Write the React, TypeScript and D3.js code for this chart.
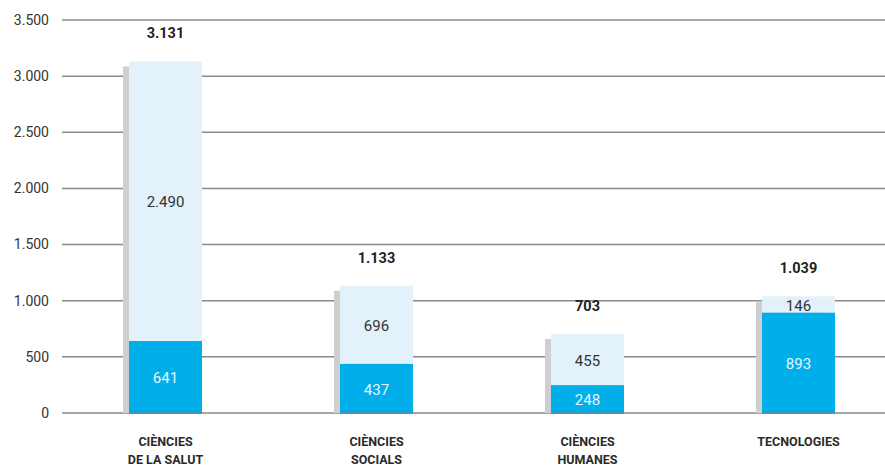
import React from "react";
import * as d3 from "d3";

const categories: string[][] = [
  ["CIÈNCIES", "DE LA SALUT"],
  ["CIÈNCIES", "SOCIALS"],
  ["CIÈNCIES", "HUMANES"],
  ["TECNOLOGIES"],
];
const bottomValues = [641, 437, 248, 893];
const topValues = [2490, 696, 455, 146];
const totals = [3131, 1133, 703, 1039];
const yTicks = [0, 500, 1000, 1500, 2000, 2500, 3000, 3500];

const W = 885;
const H = 467;
const fmt = (v: number) => d3.format(",")(v).replace(/,/g, ".");

export default function App() {
  const y = d3.scaleLinear().domain([0, 3500]).range([413, 20]);
  const x = d3
    .scalePoint<number>()
    .domain(d3.range(categories.length))
    .range([165.5, 798.5]);
  const bw = 73;
  const font = "Roboto, 'DejaVu Sans', sans-serif";
  return (
    <svg
      width={W}
      height={H}
      style={{ position: "absolute", left: 0, top: 0 }}
      fontFamily={font}
    >
      {yTicks.map((t) => (
        <g key={t}>
          <line x1={62} x2={W} y1={y(t)} y2={y(t)} stroke="#8a8a8a" strokeWidth={1.5} />
          <text x={49} y={y(t)} dy="0.35em" textAnchor="end" fontSize={14} fill="#333">
            {fmt(t)}
          </text>
        </g>
      ))}
      {categories.map((c, i) => {
        const cx = x(i)!;
        const x0 = cx - bw / 2;
        const b = bottomValues[i];
        const tp = topValues[i];
        const tot = totals[i];
        return (
          <g key={i}>
            <rect x={x0 - 6} y={y(b + tp) + 5} width={bw} height={y(0) - y(b + tp) - 5} fill="#cfcfcf" />
            <rect x={x0} y={y(b + tp)} width={bw} height={y(b) - y(b + tp)} fill="#e3f1fb" />
            <rect x={x0} y={y(b)} width={bw} height={y(0) - y(b)} fill="#00aeea" />
            <line x1={x0} x2={x0 + bw} y1={y(0)} y2={y(0)} stroke="#4f8aa3" strokeWidth={1.5} />
            <text x={cx} y={(y(b) + y(0)) / 2 + 1} dy="0.35em" textAnchor="middle" fontSize={15} fill="#e6f6ff">
              {fmt(b)}
            </text>
            <text x={cx} y={(y(b + tp) + y(b)) / 2 + 1} dy="0.35em" textAnchor="middle" fontSize={15} fill="#333">
              {fmt(tp)}
            </text>
            <text x={cx} y={y(b + tp) - 23} textAnchor="middle" fontSize={14.5} fontWeight="bold" fill="#222">
              {fmt(tot)}
            </text>
            {c.map((line, j) => (
              <text
                key={j}
                x={cx}
                y={446 + j * 18}
                textAnchor="middle"
                fontSize={12.5}
                fontWeight="bold"
                fill="#2a2a2a"
              >
                {line}
              </text>
            ))}
          </g>
        );
      })}
    </svg>
  );
}
